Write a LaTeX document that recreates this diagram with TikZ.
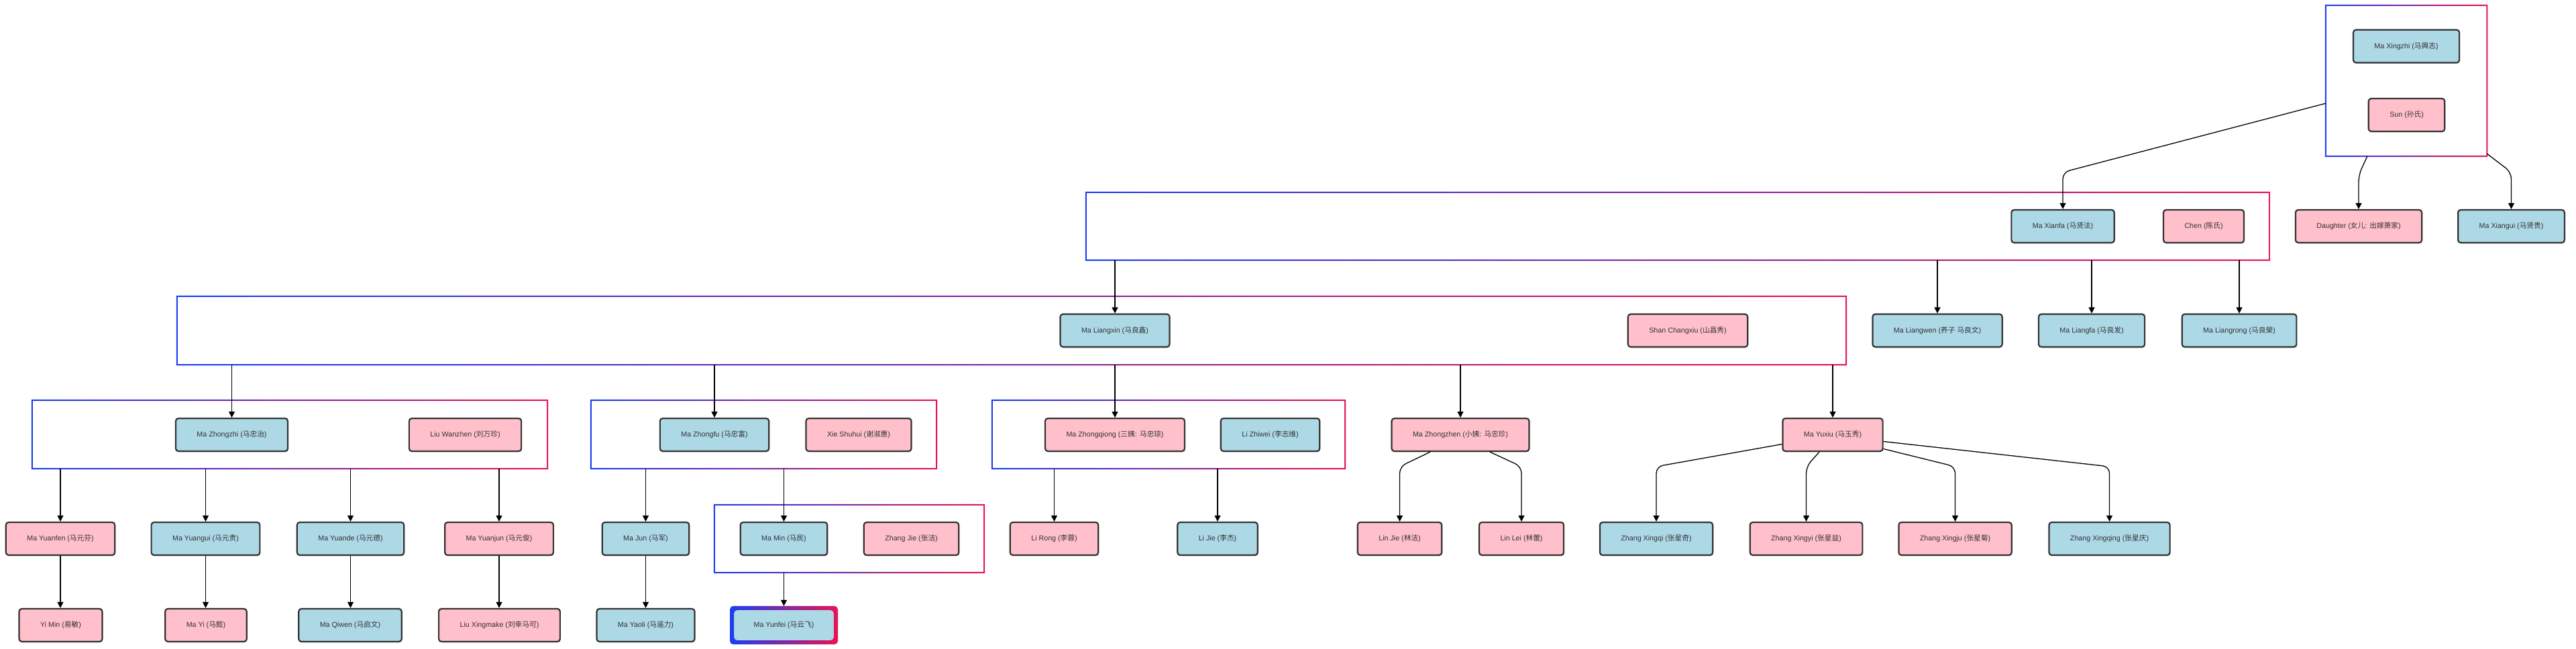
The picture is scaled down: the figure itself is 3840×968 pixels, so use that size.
\documentclass[tikz,border=0pt]{standalone}
\usepackage{fontspec}
\setmainfont{Liberation Sans}
\newfontfamily\cjk{Noto Sans CJK SC}
\usetikzlibrary{arrows.meta,shadows}

\definecolor{maleblue}{HTML}{ADD8E6}
\definecolor{femalepink}{HTML}{FFC0CB}
\definecolor{nodeline}{HTML}{333333}
\definecolor{gblue}{RGB}{28,62,240}
\definecolor{gred}{RGB}{232,20,82}

\newcommand{\zh}[1]{{\cjk #1}}
\newcommand{\namefont}{\fontsize{10.7pt}{12pt}\selectfont}

% family box: name, x1, y1, x2, y2
\newcommand{\famgroup}[5]{%
  \node[inner sep=0pt, minimum width={#4-#2}, minimum height={#5-#3}] (#1)
    at ({(#2+#4)/2},{(#3+#5)/2}) {};
  \shade[left color=gblue, right color=gred, even odd rule]
    ([shift={(-1,-1)}]#1.north west) rectangle ([shift={(1,1)}]#1.south east)
    ([shift={(1,1)}]#1.north west) rectangle ([shift={(-1,-1)}]#1.south east);
}

\tikzset{
  person/.style={rectangle, rounded corners=4pt, draw=nodeline, line width=2.2pt,
    minimum height=49pt, inner xsep=31.5pt, inner ysep=0pt, font=\namefont,
    text=nodeline, drop shadow={opacity=0.12, shadow xshift=1pt, shadow yshift=-2pt}},
  male/.style={person, fill=maleblue},
  female/.style={person, fill=femalepink},
  edge/.style={draw=black, line width=1.3pt, rounded corners=10pt,
    -{Triangle[length=9pt, width=9pt]}},
}

\begin{document}
\begin{tikzpicture}[x=1pt, y=-1pt]
  \useasboundingbox[fill=white] (0,0) rectangle (3840,968);

  % family boxes
  \famgroup{gtop}{3467}{8}{3707}{233}
  \famgroup{gxianfa}{1619}{287}{3383}{388}
  \famgroup{gliangxin}{264}{442}{2752}{544}
  \famgroup{gzhongzhi}{48}{597}{816}{699}
  \famgroup{gzhongfu}{881}{597}{1396}{699}
  \famgroup{gzhongqiong}{1479}{597}{2005}{699}
  \famgroup{gmin}{1065}{753}{1467}{854}

  % generation 1
  \node[male] (xingzhi) at (3587,69) {Ma Xingzhi (\zh{马興志})};
  \node[female] (sun) at (3587.5,171.5) {Sun (\zh{孙氏})};

  % generation 2
  \node[male] (xianfa) at (3075,337.5) {Ma Xianfa (\zh{马贤法})};
  \node[female] (chen) at (3285,337.5) {Chen (\zh{陈氏})};
  \node[female] (daughter) at (3516,337.5) {Daughter (\zh{女儿}: \zh{出嫁萧家})};
  \node[male] (xiangui) at (3743.5,337.5) {Ma Xiangui (\zh{马贤贵})};

  % generation 3
  \node[male] (liangxin) at (1662,493) {Ma Liangxin (\zh{马良鑫})};
  \node[female] (changxiu) at (2516,493) {Shan Changxiu (\zh{山昌秀})};
  \node[male] (liangwen) at (2888,493) {Ma Liangwen (\zh{养子} \zh{马良文})};
  \node[male] (liangfa) at (3118,493) {Ma Liangfa (\zh{马良发})};
  \node[male] (liangrong) at (3338,493) {Ma Liangrong (\zh{马良榮})};

  % generation 4
  \node[male] (zhongzhi) at (345.5,648.5) {Ma Zhongzhi (\zh{马忠治})};
  \node[female] (wanzhen) at (693.5,648.5) {Liu Wanzhen (\zh{刘万珍})};
  \node[male] (zhongfu) at (1065,648.5) {Ma Zhongfu (\zh{马忠富})};
  \node[female] (shuhui) at (1280,648.5) {Xie Shuhui (\zh{谢淑惠})};
  \node[female] (zhongqiong) at (1662,648.5) {Ma Zhongqiong (\zh{三姨}: \zh{马忠琼})};
  \node[male] (zhiwei) at (1893.5,648.5) {Li Zhiwei (\zh{李志维})};
  \node[female] (zhongzhen) at (2177,648.5) {Ma Zhongzhen (\zh{小姨}: \zh{马忠珍})};
  \node[female] (yuxiu) at (2732,648.5) {Ma Yuxiu (\zh{马玉秀})};

  % generation 5
  \node[female] (yuanfen) at (90,803.5) {Ma Yuanfen (\zh{马元芬})};
  \node[male] (yuangui) at (306.5,803.5) {Ma Yuangui (\zh{马元贵})};
  \node[male] (yuande) at (522.5,803.5) {Ma Yuande (\zh{马元德})};
  \node[female] (yuanjun) at (744,803.5) {Ma Yuanjun (\zh{马元俊})};
  \node[male] (majun) at (962.5,803.5) {Ma Jun (\zh{马军})};
  \node[male] (mamin) at (1168.5,803.5) {Ma Min (\zh{马民})};
  \node[female] (zhangjie) at (1358.5,803.5) {Zhang Jie (\zh{张洁})};
  \node[female] (lirong) at (1571.5,803.5) {Li Rong (\zh{李蓉})};
  \node[male] (lijie) at (1815,803.5) {Li Jie (\zh{李杰})};
  \node[female] (linjie) at (2086.5,803.5) {Lin Jie (\zh{林洁})};
  \node[female] (linlei) at (2268,803.5) {Lin Lei (\zh{林蕾})};
  \node[male] (xingqi) at (2469,803.5) {Zhang Xingqi (\zh{张星奇})};
  \node[female] (xingyi) at (2692.5,803.5) {Zhang Xingyi (\zh{张星益})};
  \node[female] (xingju) at (2914.5,803.5) {Zhang Xingju (\zh{张星菊})};
  \node[male] (xingqing) at (3144.5,803.5) {Zhang Xingqing (\zh{张星庆})};

  % generation 6
  \node[female] (yimin) at (90.5,932.5) {Yi Min (\zh{易敏})};
  \node[female] (mayi) at (307,932.5) {Ma Yi (\zh{马懿})};
  \node[male] (qiwen) at (522,932.5) {Ma Qiwen (\zh{马启文})};
  \node[female] (xingmake) at (744.5,932.5) {Liu Xingmake (\zh{刘幸马可})};
  \node[male] (yaoli) at (962.5,932.5) {Ma Yaoli (\zh{马遥力})};
  \node[male, draw=none] (yunfei) at (1168.5,932.5) {Ma Yunfei (\zh{马云飞})};
  \shade[left color=gblue, right color=gred, even odd rule, rounded corners=5pt]
    ([shift={(-3,-3)}]yunfei.north west) rectangle ([shift={(3,3)}]yunfei.south east)
    ([shift={(3,3)}]yunfei.north west) rectangle ([shift={(-3,-3)}]yunfei.south east);

  % connectors
  \draw[edge] ([yshift=79pt]gtop.south west) -- ([yshift=55pt]xianfa.north) -- (xianfa.north);
  \draw[edge] ([xshift=62pt]gtop.south west) -- ([yshift=51pt]daughter.north) -- (daughter.north);
  \draw[edge] ([yshift=4pt]gtop.south east) -- ([yshift=55pt]xiangui.north) -- (xiangui.north);

  \foreach \g/\c in {gxianfa/liangxin, gxianfa/liangwen, gxianfa/liangfa, gxianfa/liangrong,
      gliangxin/zhongzhi, gliangxin/zhongfu, gliangxin/zhongqiong, gliangxin/zhongzhen,
      gliangxin/yuxiu, gzhongzhi/yuanfen, gzhongzhi/yuangui, gzhongzhi/yuande,
      gzhongzhi/yuanjun, gzhongfu/majun, gzhongfu/mamin, gzhongqiong/lirong,
      gzhongqiong/lijie}
    \draw[edge] (\g.south -| \c) -- (\c.north);

  \foreach \a/\b in {yuanfen/yimin, yuangui/mayi, yuande/qiwen, yuanjun/xingmake, majun/yaoli}
    \draw[edge] (\a.south) -- (\a.south |- \b.north);

  \draw[edge] (gmin.south -| yunfei) -- ([yshift=3pt]yunfei.north);

  \draw[edge] ([xshift=-45pt]zhongzhen.south) -- ([yshift=82pt]linjie.north) -- (linjie.north);
  \draw[edge] ([xshift=44pt]zhongzhen.south) -- ([yshift=82pt]linlei.north) -- (linlei.north);

  \draw[edge] ([yshift=-14pt]yuxiu.west) -- ([yshift=82pt]xingqi.north) -- (xingqi.north);
  \draw[edge] ([xshift=-20pt]yuxiu.south) -- ([yshift=82pt]xingyi.north) -- (xingyi.north);
  \draw[edge] ([yshift=-21pt]yuxiu.east) -- ([yshift=82pt]xingju.north) -- (xingju.north);
  \draw[edge] ([yshift=-10pt]yuxiu.east) -- ([yshift=82pt]xingqing.north) -- (xingqing.north);
\end{tikzpicture}
\end{document}
